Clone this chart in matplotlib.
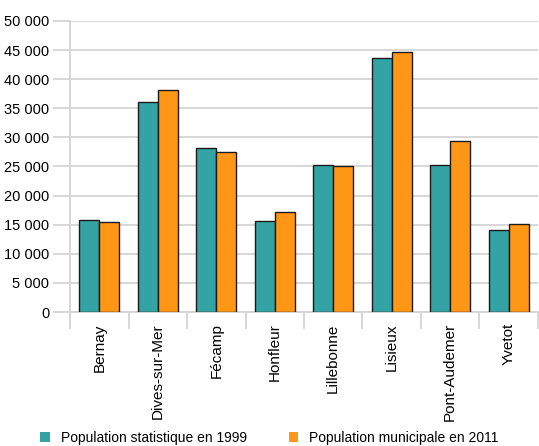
import numpy as np
import matplotlib
matplotlib.use("Agg")
from matplotlib import pyplot as plt
from matplotlib.ticker import FuncFormatter, FixedLocator

communes = ["Bernay", "Dives-sur-Mer", "Fécamp", "Honfleur", "Lillebonne",
            "Lisieux", "Pont-Audemer", "Yvetot"]
pop_1999 = [15800, 36100, 28200, 15600, 25200, 43700, 25200, 14100]
pop_2011 = [15500, 38200, 27500, 17200, 25100, 44600, 29300, 15100]
labels = ["Population statistique en 1999", "Population municipale en 2011"]

teal = "#33a3a3"
orange = "#ff9615"
grid = "#d4d4d4"

plt.rcParams["font.family"] = ["Liberation Sans", "DejaVu Sans"]

fig = plt.figure(figsize=(5.39, 4.46), dpi=100)
ax = fig.add_axes([0.13, 0.3004, 0.868, 0.6526])

x = np.arange(len(communes))
w = 0.34
ax.bar(x - w / 2, pop_1999, w, color=teal, edgecolor="#1a1a1a", linewidth=1.0,
       label=labels[0], zorder=3)
ax.bar(x + w / 2, pop_2011, w, color=orange, edgecolor="#1a1a1a", linewidth=1.0,
       label=labels[1], zorder=3)

ax.set_xlim(-0.5, len(communes) - 0.5)
ax.set_ylim(0, 50000)
ax.set_yticks(np.arange(0, 50001, 5000))
ax.yaxis.set_major_formatter(FuncFormatter(lambda v, p: f"{int(v):,}".replace(",", " ")))
ax.grid(axis="y", color=grid, linewidth=1.3, zorder=0)

ax.set_xticks(x)
ax.set_xticklabels(communes, rotation=90, fontsize=11)
ax.tick_params(axis="x", length=0, pad=8)
ax.xaxis.set_minor_locator(FixedLocator(np.arange(-0.5, len(communes), 1.0)))
ax.tick_params(axis="x", which="minor", length=12, color=grid, width=1.3)
ax.tick_params(axis="y", length=12, color=grid, width=1.3, labelsize=10.5, pad=3)

for s in ["top", "right"]:
    ax.spines[s].set_visible(False)
ax.spines["left"].set_color(grid)
ax.spines["left"].set_linewidth(1.3)
ax.spines["bottom"].set_color(grid)
ax.spines["bottom"].set_linewidth(1.3)

fig.legend(loc="lower center", bbox_to_anchor=(0.5, -0.025), ncol=2, frameon=False,
           fontsize=10, handlelength=0.7, handleheight=0.7, columnspacing=3.0,
           handletextpad=0.8)
for h in fig.legends[0].legend_handles:
    h.set_edgecolor("none")

fig.savefig("out.png", dpi=100)
